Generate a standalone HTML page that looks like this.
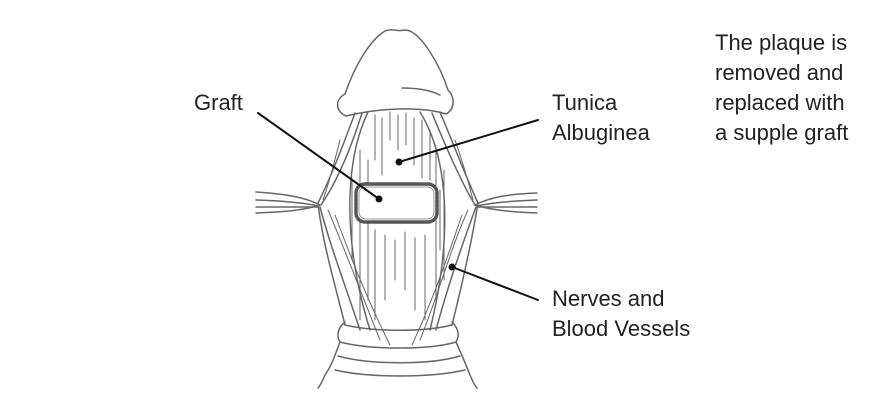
<!DOCTYPE html>
<html><head><style>
html,body{margin:0;padding:0;background:#fff;}
body{width:896px;height:411px;position:relative;overflow:hidden;font-family:"Liberation Sans",sans-serif;color:#222;}
.t{position:absolute;font-size:22px;line-height:30px;white-space:nowrap;}
</style></head><body>
<svg width="896" height="411" style="position:absolute;left:0;top:0" fill="none" stroke="#666" stroke-width="1.5" stroke-linecap="round">
<!-- glans -->
<path d="M345,94 C355,65 370,40 385,31 C392,28 398,32 405,30 C420,30 440,65 448,90 C456,98 454,110 446,114 C420,106 380,108 346,116 C336,112 334,100 345,94 Z" fill="#fff"/>
<path d="M402,88 C415,88 430,90 440,95"/>
<!-- body outer left -->
<path d="M355,113 C345,140 332,175 318,203 C322,240 335,285 345,325"/>
<path d="M362,113 C352,145 338,180 321,205"/>
<path d="M320,207 C330,245 345,285 360,330"/>
<!-- right -->
<path d="M440,112 C452,140 465,175 478,203 C472,240 462,285 452,325"/>
<path d="M432,113 C445,145 460,180 475,205"/>
<path d="M476,207 C462,245 448,285 436,330"/>
<!-- tunica inner -->
<path d="M368,112 C345,160 342,240 370,330 M420,112 C450,160 452,240 430,330"/>
<g stroke-width="1">
<path d="M375,115 V160 M382,118 V175 M390,112 V140 M398,115 V150 M406,113 V145 M414,118 V165 M422,120 V178 M430,130 V180 M360,150 V320 M368,160 V300 M436,150 V300 M444,170 V280 M375,230 V320 M385,235 V300 M395,240 V280 M405,232 V290 M415,238 V310 M425,235 V320 M352,180 V260 M440,190 V250"/>
<path d="M328,210 C345,250 360,290 380,340 M335,215 C350,255 365,295 390,345 M468,210 C450,250 440,290 420,340 M462,215 C448,255 435,295 412,345 M340,140 C335,160 330,180 323,200 M455,140 C462,160 468,180 473,200"/>
</g>
<!-- clamps -->
<path d="M256,192 C285,194 305,197 320,205 C305,210 285,212 256,213 M256,200 C285,201 305,203 318,206 M256,207 C285,207 305,207 318,207"/>
<path d="M537,193 C510,194 490,197 475,205 C490,210 510,212 537,213 M537,200 C510,201 490,203 477,206 M537,207 C510,207 490,207 477,207"/>
<!-- cuff -->
<path d="M345,322 C338,328 336,335 340,342 C335,355 332,365 325,375 C322,382 320,386 318,388" fill="none"/>
<path d="M452,322 C458,328 460,335 456,342 C462,355 466,365 470,375 C473,382 475,386 477,388"/>
<path d="M340,342 C370,350 430,350 456,342 M338,356 C370,365 430,365 460,356 M335,370 C370,378 430,378 465,370"/>
<path d="M345,325 C375,332 425,332 452,325"/>
<!-- graft -->
<rect x="356" y="184" width="81" height="38" rx="9" stroke="#555" stroke-width="3.5" stroke-dasharray="2.5 1.5" fill="#fff"/>
<rect x="359" y="187" width="75" height="32" rx="7" stroke="#999" stroke-width="1" fill="#fff"/>
<!-- leaders -->
<g stroke="#111" stroke-width="2">
<line x1="258" y1="113" x2="379" y2="199"/>
<line x1="538" y1="120" x2="399" y2="162"/>
<line x1="452" y1="267" x2="538" y2="300"/>
</g>
<g fill="#111" stroke="none">
<circle cx="379" cy="199" r="3.5"/><circle cx="399" cy="162" r="3.5"/><circle cx="452" cy="267" r="3.5"/>
</g>
</svg>
<div class="t" style="left:194px;top:88px">Graft</div>
<div class="t" style="left:552px;top:88px">Tunica<br>Albuginea</div>
<div class="t" style="left:552px;top:284px">Nerves and<br>Blood Vessels</div>
<div class="t" style="left:715px;top:28px">The plaque is<br>removed and<br>replaced with<br>a supple graft</div>
</body></html>
